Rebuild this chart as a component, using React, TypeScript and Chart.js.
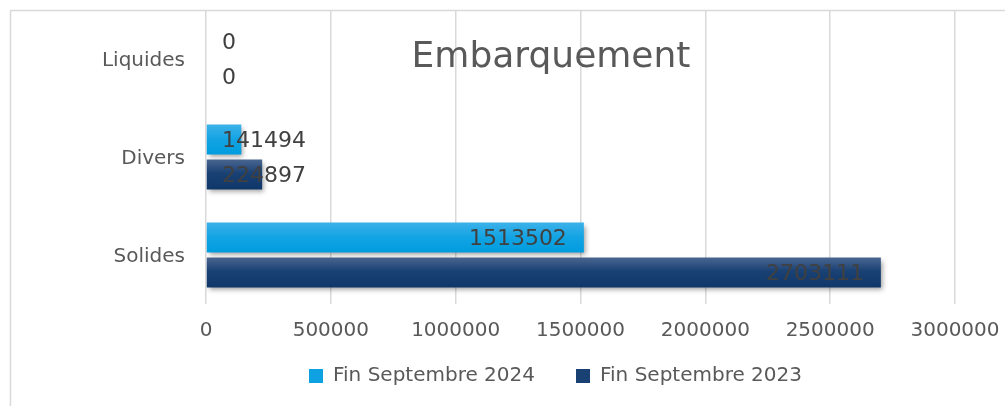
import React, { useEffect, useRef } from "react";
import { Chart, registerables } from "chart.js";

Chart.register(...registerables);

const categories = ["Liquides", "Divers", "Solides"];
const seriesNames = ["Fin Septembre 2024", "Fin Septembre 2023"];
const values2024 = [0, 141494, 1513502];
const values2023 = [0, 224897, 2703111];
const xTicks = [0, 500000, 1000000, 1500000, 2000000, 2500000, 3000000];
const titleText = "Embarquement";

const FONT = "'DejaVu Sans', sans-serif";

const framePlugin = {
  id: "frame",
  beforeDraw(chart: any) {
    const ctx = chart.ctx;
    ctx.save();
    ctx.strokeStyle = "#d9d9d9";
    ctx.lineWidth = 1.5;
    ctx.strokeRect(10.5, 10.5, chart.width + 100, chart.height + 100);
    ctx.restore();
  },
  afterUpdate(chart: any) {
    const lg = chart.legend;
    if (lg) {
      lg.top -= 29;
      lg.left += 28;
      lg.right += 28;
    }
  },
  afterDraw(chart: any) {
    const ctx = chart.ctx;
    ctx.save();
    ctx.fillStyle = "#595959";
    ctx.font = `36px ${FONT}`;
    ctx.textAlign = "center";
    ctx.textBaseline = "alphabetic";
    ctx.fillText(titleText, 551, 67);
    ctx.restore();
  },
};

const gradStops = [
  [
    [0, "#3db1e9"],
    [0.5, "#12a3e3"],
    [1, "#009ddf"],
  ],
  [
    [0, "#4a6690"],
    [0.45, "#1a4174"],
    [1, "#0f376a"],
  ],
];

const barPlugin = {
  id: "barStyle",
  beforeDatasetsDraw(chart: any) {
    const ctx = chart.ctx;
    chart.data.datasets.forEach((_ds: any, di: number) => {
      const meta = chart.getDatasetMeta(di);
      meta.data.forEach((el: any) => {
        const h = el.height || 1;
        const g = ctx.createLinearGradient(0, el.y - h / 2, 0, el.y + h / 2);
        gradStops[di].forEach((s: any) => g.addColorStop(s[0], s[1]));
        el.options = Object.assign({}, el.options, { backgroundColor: g });
      });
    });
    ctx.save();
    ctx.shadowColor = "rgba(0,0,0,0.38)";
    ctx.shadowBlur = 5;
    ctx.shadowOffsetX = 2;
    ctx.shadowOffsetY = 3;
  },
  afterDatasetsDraw(chart: any) {
    const ctx = chart.ctx;
    ctx.restore();
    const xScale = chart.scales.x;
    const zero = xScale.getPixelForValue(0);
    ctx.save();
    ctx.font = `22px ${FONT}`;
    ctx.fillStyle = "#404040";
    ctx.textAlign = "right";
    ctx.textBaseline = "middle";
    chart.data.datasets.forEach((ds: any, di: number) => {
      const meta = chart.getDatasetMeta(di);
      meta.data.forEach((el: any, i: number) => {
        const txt = String(ds.data[i]);
        const w = ctx.measureText(txt).width;
        const right = Math.max(el.x - 17, zero + 16 + w);
        ctx.fillText(txt, right, el.y + 2);
      });
    });
    ctx.restore();
  },
};

export default function App() {
  const ref = useRef<HTMLCanvasElement | null>(null);
  useEffect(() => {
    if (!ref.current) return;
    const chart = new Chart(ref.current, {
      type: "bar",
      data: {
        labels: categories,
        datasets: [
          {
            label: seriesNames[0],
            data: values2024,
            backgroundColor: "#0ea2e2",
            borderWidth: 0,
            categoryPercentage: 0.714,
            barPercentage: 0.857,
          },
          {
            label: seriesNames[1],
            data: values2023,
            backgroundColor: "#1a4174",
            borderWidth: 0,
            categoryPercentage: 0.714,
            barPercentage: 0.857,
          },
        ],
      },
      options: {
        indexAxis: "y",
        animation: false,
        responsive: false,
        maintainAspectRatio: false,
        layout: { padding: { left: 100, right: 50, top: 10, bottom: 10 } },
        scales: {
          x: {
            min: 0,
            max: 3000000,
            afterBuildTicks: (s: any) => {
              s.ticks = xTicks.map((v) => ({ value: v }));
            },
            afterFit: (s: any) => {
              s.height = 50;
              s.paddingLeft = 0;
              s.paddingRight = 0;
            },
            grid: { color: "#d9d9d9", lineWidth: 1.5, drawTicks: false },
            border: { display: false },
            ticks: {
              padding: 15,
              color: "#595959",
              font: { family: FONT, size: 20 },
              callback: (v: any) => String(v),
              maxRotation: 0,
              autoSkip: false,
            },
          },
          y: {
            afterFit: (s: any) => {
              s.width = 106;
              s.paddingTop = 0;
              s.paddingBottom = 0;
            },
            grid: { display: false, drawTicks: false },
            border: { display: false },
            ticks: {
              padding: 21,
              labelOffset: 2,
              color: "#595959",
              font: { family: FONT, size: 20 },
            },
          },
        },
        plugins: {
          legend: {
            position: "bottom",
            maxHeight: 42,
            labels: {
              boxWidth: 14,
              boxHeight: 14,
              padding: 41,
              color: "#595959",
              font: { family: FONT, size: 20 },
            },
          },
          title: { display: false },
          tooltip: { enabled: false },
        },
      },
      plugins: [framePlugin, barPlugin],
    } as any);
    return () => chart.destroy();
  }, []);
  return (
    <div style={{ position: "fixed", left: 0, top: 0, width: 1005, height: 406, background: "#fff" }}>
      <canvas ref={ref} width={1005} height={406} style={{ display: "block", width: 1005, height: 406 }} />
    </div>
  );
}
